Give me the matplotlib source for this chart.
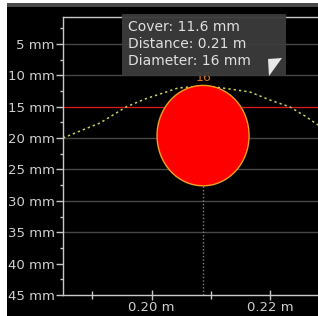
import matplotlib.pyplot as plt
import matplotlib.patches as mpatches
import numpy as np

# scan readout (distance in m, depth in mm)
curve_x = [0.18506, 0.18793, 0.19131, 0.19570, 0.19890, 0.20143, 0.20447, 0.20819,
           0.21072, 0.21325, 0.21662, 0.22000, 0.22338, 0.22591, 0.22810]
curve_y = [19.98, 18.87, 17.59, 15.04, 13.77, 12.97, 12.02, 11.70,
           11.86, 12.18, 12.65, 13.93, 15.04, 16.48, 17.91]

bar_x = 0.2087
bar_cover = 11.6
bar_diameter = 16
bar_width_m = 0.01553
ref_depth = 15

y_ticks = [5, 10, 15, 20, 25, 30, 35, 40, 45]
y_labels = ['5 mm', '10 mm', '15 mm', '20 mm', '25 mm', '30 mm', '35 mm', '40 mm', '45 mm']
grid_depths = [5, 10, 20, 25, 30, 35]
x_ticks = [0.20, 0.22]
x_labels = ['0.20 m', '0.22 m']

info_lines = ['Cover: 11.6 mm', 'Distance: 0.21 m', 'Diameter: 16 mm']

W, H = 318, 316
fig = plt.figure(figsize=(W / 100, H / 100), dpi=100, facecolor='black')

# window decorations
fig.patches.append(mpatches.Rectangle((0, 0), 7 / W, 1, transform=fig.transFigure,
                                      facecolor='white', edgecolor='none', zorder=0))
fig.patches.append(mpatches.Rectangle((7 / W, 1 - 7 / H), 1, 4 / H, transform=fig.transFigure,
                                      facecolor='#4a4a4a', edgecolor='none', zorder=0))
fig.patches.append(mpatches.Rectangle((0, 1 - 3 / H), 1, 3 / H, transform=fig.transFigure,
                                      facecolor='white', edgecolor='none', zorder=0))

ax = fig.add_axes([63 / W, 21 / H, 1 - 63 / W, (295 - 17) / H])
ax.set_facecolor('black')
ax.set_xlim(0.18506, 0.2281)
ax.set_ylim(45, 0.7)

for d in grid_depths:
    ax.axhline(d, color='#474747', lw=1.0, zorder=1)
ax.axhline(ref_depth, color='#e01818', lw=0.9, zorder=2)

ax.plot(curve_x, curve_y, color='#c8d060', lw=1.1, ls=(0, (1.5, 2)), zorder=3)

center_y = bar_cover + bar_diameter / 2
ax.plot([bar_x, bar_x], [center_y + bar_diameter / 2, 45], color='#808080',
        lw=1.0, ls=(0, (1, 1.5)), zorder=2)
ax.add_patch(mpatches.Ellipse((bar_x, center_y), bar_width_m, bar_diameter,
                              facecolor='#ff0000', edgecolor='#f0a020', lw=1.0, zorder=4))
ax.text(bar_x, bar_cover - 1.2, '16', color='#d07020', fontsize=9,
        ha='center', va='center', zorder=4)

ax.spines['right'].set_visible(False)
for s in ['left', 'top', 'bottom']:
    ax.spines[s].set_color('#c8c8c8')
    ax.spines[s].set_linewidth(1.0)

ax.set_yticks(y_ticks)
ax.set_yticklabels(y_labels)
ax.set_yticks(np.arange(2.5, 45, 5), minor=True)
ax.set_xticks(x_ticks)
ax.set_xticklabels(x_labels)
ax.set_xticks([0.19, 0.21], minor=True)
ax.tick_params(axis='y', which='major', direction='out', length=5, width=1,
               color='#c8c8c8', labelcolor='#d0d0d0', labelsize=9.5, pad=1)
ax.tick_params(axis='y', which='minor', direction='out', length=2, width=1, color='#c8c8c8')
ax.tick_params(axis='x', which='major', direction='inout', length=7, width=1,
               color='#c8c8c8', labelcolor='#d0d0d0', labelsize=9.5, pad=1)
ax.tick_params(axis='x', which='minor', direction='inout', length=6, width=1, color='#c8c8c8')

# info box
fig.patches.append(mpatches.Rectangle((122 / W, 1 - 76 / H), (286 - 122) / W, (76 - 14) / H,
                                      transform=fig.transFigure, facecolor='#3c3c3c',
                                      edgecolor='none', alpha=0.95, zorder=10))
for i, line in enumerate(info_lines):
    fig.text(128 / W, 1 - (27 + 17 * i) / H, line, color='#e0e0e0', fontsize=10,
             ha='left', va='center', zorder=11)
fig.patches.append(mpatches.Polygon([(268 / W, 1 - 59 / H), (282 / W, 1 - 58 / H),
                                     (269 / W, 1 - 76 / H)], closed=True,
                                    transform=fig.transFigure, facecolor='#e8e8e8',
                                    edgecolor='none', zorder=11))

fig.savefig('out.png', dpi=100, facecolor='black')
